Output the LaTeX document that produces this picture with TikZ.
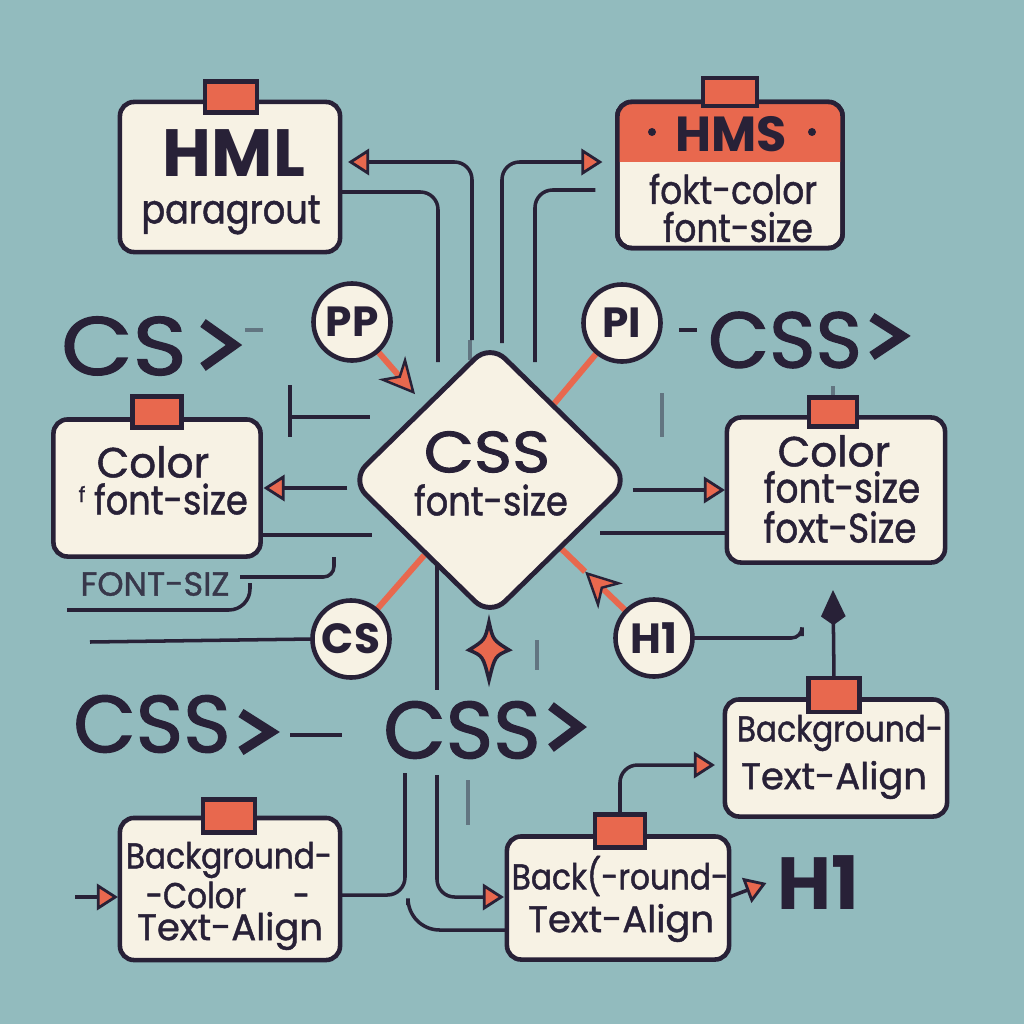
\documentclass[tikz,border=0pt]{standalone}
\usepackage{fontspec}
\setmainfont{Poppins}
\newfontfamily\medfam{Poppins}[FakeBold=1.2]
\newfontfamily\nar{Poppins}[FakeStretch=0.87,FakeBold=1.2]
\newfontfamily\widfam{Poppins}[FakeStretch=1.12,FakeBold=1.5]
\newfontfamily\bigfam{Poppins}[FakeBold=1.5]
\usetikzlibrary{shapes.geometric,arrows.meta,calc}
\definecolor{bgc}{RGB}{146,187,190}
\definecolor{dk}{RGB}{40,33,55}
\definecolor{orc}{RGB}{232,104,78}
\definecolor{cream}{RGB}{247,242,228}
\newcommand\myfs[1]{\fontsize{#1}{#1}\selectfont}
\pgfdeclarelayer{back}\pgfdeclarelayer{lines}\pgfsetlayers{back,lines,main}
\tikzset{
  box/.style={draw=dk, fill=cream, line width=1.3pt, rounded corners=4pt, inner sep=0pt, outer sep=0pt},
  tabbox/.style={draw=dk, fill=orc, line width=1.2pt, inner sep=0pt, outer sep=0pt},
  circ/.style={circle, draw=dk, fill=cream, line width=1.3pt, minimum size=0.77cm, inner sep=0pt, outer sep=0pt},
  conn/.style={draw=dk, line width=1pt, rounded corners=5pt},
  faint/.style={draw=dk, line width=1pt, opacity=0.45},
  oline/.style={draw=orc, line width=1.7pt},
  lbl/.style={text=dk, inner sep=0pt},
  chev/.style={draw=dk, line width=2.7pt, miter limit=4},
  tri/.style={-{Triangle[length=6pt,width=7.5pt,fill=orc,line width=0.8pt]}},
  stl/.style={-{Stealth[length=10pt,width=10pt,inset=3pt,fill=orc,color=dk,line width=0.7pt]}}
}
\begin{document}
\begin{tikzpicture}[x=0.01cm,y=-0.01cm]
\begin{pgfonlayer}{back}
\fill[bgc] (0,0) rectangle (1024,1024);
\end{pgfonlayer}
\useasboundingbox (0,0) rectangle (1024,1024);

% ---------- boxes ----------
\node[box, minimum width=2.2cm, minimum height=1.5cm] (hml) at (230,177) {};
\node[tabbox, minimum width=0.52cm, minimum height=0.31cm] (hmltab) at (231,97) {};
\node[lbl, font={\myfs{19}\bfseries}] (hmlt) at (234,153) {HML};
\node[lbl, font={\nar\myfs{11.5}}] (hmlp) at (231,215) {paragrout};

\node[box, minimum width=2.25cm, minimum height=1.46cm] (hms) at (730,175) {};
\begin{scope}
\clip[rounded corners=4pt] (hms.north west) rectangle (hms.south east);
\fill[orc] (hms.north west) rectangle ($(hms.north east)+(0,60)$);
\end{scope}
\draw[dk, line width=1.3pt, rounded corners=4pt] (hms.north west) rectangle (hms.south east);
\node[tabbox, minimum width=0.54cm, minimum height=0.28cm] (hmstab) at (730,92) {};
\node[lbl, font={\myfs{14}\bfseries}] (hmst) at (731,134) {HMS};
\node[circle, fill=dk, inner sep=0pt, minimum size=0.08cm] (dot1) at (652,132) {};
\node[circle, fill=dk, inner sep=0pt, minimum size=0.08cm] (dot2) at (812,132) {};
\node[lbl, font={\nar\myfs{11.2}}] (hms1) at (733,189) {fokt-color};
\node[lbl, font={\nar\myfs{11.2}}] (hms2) at (738,227) {font-size};

\node[box, minimum width=2.07cm, minimum height=1.37cm] (colL) at (157,488) {};
\node[tabbox, minimum width=0.49cm, minimum height=0.31cm] (colLtab) at (157,412) {};
\node[lbl, font={\medfam\myfs{12}}] (colL1) at (153,462) {Color};
\node[lbl, font={\nar\myfs{11.5}}] (colL2) at (171,499) {font-size};
\node[lbl, font={\medfam\myfs{6}}] (colL0) at (82,494) {f};

\node[box, minimum width=2.18cm, minimum height=1.45cm] (colR) at (836,490) {};
\node[tabbox, minimum width=0.48cm, minimum height=0.29cm] (colRtab) at (833,412) {};
\node[lbl, font={\medfam\myfs{12}}] (colR1) at (834,451) {Color};
\node[lbl, font={\nar\myfs{11.7}}] (colR2) at (842,487) {font-size};
\node[lbl, font={\nar\myfs{11.7}}] (colR3) at (840,527) {foxt-Size};

\node[box, minimum width=2.2cm, minimum height=1.42cm] (bgL) at (230,889) {};
\node[tabbox, minimum width=0.52cm, minimum height=0.33cm] (bgLtab) at (229,816) {};
\node[lbl, font={\nar\myfs{10.2}}] (bgL1) at (229,860) {Background-};
\node[lbl, font={\nar\myfs{10.2}}] (bgL2) at (228,895) {-Color\hspace{1.3em}-};
\node[lbl, font={\medfam\myfs{10.5}}] (bgL3) at (230,931) {Text-Align};

\node[box, minimum width=2.22cm, minimum height=1.23cm] (bgC) at (618,898) {};
\node[tabbox, minimum width=0.5cm, minimum height=0.33cm] (bgCtab) at (620,831) {};
\node[lbl, font={\nar\myfs{10.2}}] (bgC1) at (620,876) {Back(-round-};
\node[lbl, font={\medfam\myfs{10.5}}] (bgC2) at (621,923) {Text-Align};

\node[box, minimum width=2.22cm, minimum height=1.17cm] (bgR) at (836,758) {};
\node[tabbox, minimum width=0.51cm, minimum height=0.34cm] (bgRtab) at (834,695) {};
\node[lbl, font={\nar\myfs{10.2}}] (bgR1) at (840,733) {Background-};
\node[lbl, font={\medfam\myfs{10.5}}] (bgR2) at (834,780) {Text-Align};

% ---------- diamond ----------
\node[diamond, draw=dk, fill=cream, line width=1.4pt, rounded corners=6pt, minimum width=2.8cm, minimum height=2.74cm, inner sep=0pt] (D) at (490,480) {};
\node[lbl, font={\widfam\myfs{16.5}}] (Dt1) at (487,452) {CSS};
\node[lbl, font={\nar\myfs{11.5}}] (Dt2) at (491,500) {font-size};

% ---------- circles ----------
\node[circ, font={\myfs{12}\bfseries}, text=dk] (PP) at (352,322) {PP};
\node[circ, font={\myfs{12}\bfseries}, text=dk] (PI) at (622,323) {PI};
\node[circ, font={\myfs{12}\bfseries}, text=dk] (CSc) at (351,639) {CS};
\node[circ, font={\myfs{12}\bfseries}, text=dk] (H1c) at (654,638) {H1};

% ---------- big labels ----------
\node[lbl, font={\widfam\myfs{23.5}}] (cs1) at (124,346) {CS};
\draw[chev] (203,323) -- (234,345) -- (203,367);
\node[lbl, font={\bigfam\myfs{22.5}}] (css2) at (785,340) {CSS};
\draw[chev] (872,317) -- (902,336) -- (872,356);
\node[lbl, font={\bigfam\myfs{23}}] (css3) at (152,724) {CSS};
\draw[chev] (241,713) -- (271,732) -- (241,751);
\node[lbl, font={\bigfam\myfs{23}}] (css4) at (462,730) {CSS};
\draw[chev] (551,706) -- (579,727) -- (551,748);
\node[lbl, font={\myfs{21}\bfseries}] (h1t) at (818,883) {H1};
\node[lbl, font={\medfam\myfs{9.5}}, text=dk!85!bgc] (fsz) at (155,584) {FONT-SIZ};

% ---------- connectors ----------
\begin{pgfonlayer}{lines}
\draw[conn, tri] (472,340) |- ($(hml.east)+(8,-15)$);
\draw[conn] ($(hml.east)+(0,15)$) -| (438,362);
\draw[conn, tri] (502,343) |- ($(hms.west)+(-15,-13)$);
\draw[conn] (535,362) |- ($(hms.west)+(-22,15)$);
\draw[faint] (470,340) -- (470,360);

\draw[conn, tri] (D.west |- colL.east) -- ($(colL.east)+(3,0)$);
\draw[conn, tri] (D.east |- colR.west) -- ($(colR.west)+(-2,0)$);
\draw[conn] ($(colL.east)+(0,47)$) -- (372,535);
\draw[conn] (600,533) -- ($(colR.west)+(0,43)$);
\draw[conn] (290,385) -- (290,437);
\draw[conn] (292,417) -- (370,417);
\draw[conn, rounded corners=3pt] (334,557) |- (240,577);
\draw[conn, rounded corners=6pt] (250,583) |- (67,610);
\draw[conn] (90,642) -- (CSc.west);
\draw[conn, rounded corners=3pt] (H1c.east) -| (802,636);
\draw[faint] (245,330) -- (263,330);
\draw[conn] (679,330) -- (697,330);
\draw[faint] (662,393) -- (662,437);
\draw[faint] (833,386) -- (colRtab.north);

\draw[conn, {Kite[length=10pt,width=7pt,fill=dk]}-] (833,590) -- (bgRtab.north);

\draw[conn] (437,553) -- (437,690);
\draw[faint] (537,640) -- (537,670);

\draw[conn] (405,773) |- ($(bgL.east)+(0,6)$);
\draw[conn, tri] (437,775) |- ($(bgC.west)+(-3,-1)$);
\draw[faint] (468,780) -- (468,825);
\draw[conn, rounded corners=9pt] (408,905) |- ($(bgC.west)+(0,32)$);
\draw[conn, tri] (75,897) -- ($(bgL.west)+(-2,8)$);
\draw[conn] (290,735) -- (342,735);
\draw[conn, tri] ($(bgC.east)+(0,-1)$) -- ($(h1t.west)+(-10,0)$);
\draw[conn, tri] (bgCtab.north) |- ($(bgR.west)+(-10,7)$);

% orange links
\coordinate (h1mid) at ($(H1c)!0.42!(D)$);
\draw[oline] (PI) -- (D);
\draw[oline] (CSc) -- (D);
\draw[oline] (h1mid) -- (D);
\draw[oline, stl] (H1c) -- (h1mid);
\draw[oline, stl, shorten >=4pt] (PP) -- (D);
\end{pgfonlayer}

% orange star marker
\filldraw[fill=orc, draw=dk, line width=1pt] (489,622) .. controls (493,640) .. (509,650) .. controls (495,656) .. (489,680) .. controls (483,656) .. (469,650) .. controls (485,640) .. (489,622) -- cycle;
\end{tikzpicture}
\end{document}
